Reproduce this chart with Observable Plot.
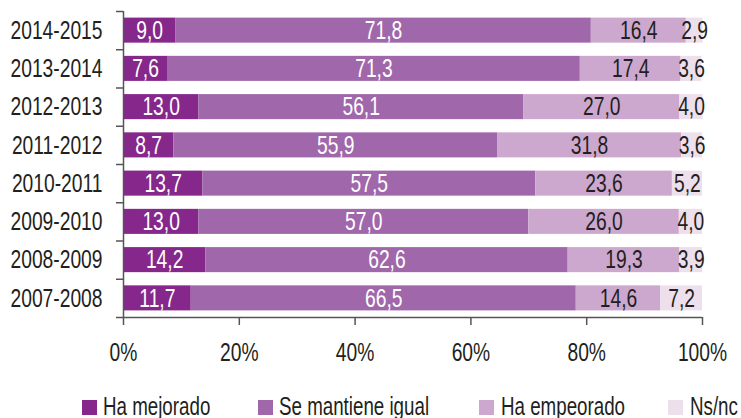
<!DOCTYPE html>
<html>
<head>
<meta charset="utf-8">
<script src="https://cdn.jsdelivr.net/npm/d3@7"></script>
<script src="https://cdn.jsdelivr.net/npm/@observablehq/plot@0.6"></script>
<style>
  html, body { margin: 0; padding: 0; background: #fff; }
  #wrap { position: relative; width: 741px; height: 418px; overflow: hidden; }
  .f { font-family: 'Liberation Sans', Arial, sans-serif; }
  #legend { position: absolute; top: 0; left: 0; width: 741px; height: 418px; font-size: 25.5px; line-height: 25.5px; color: #231f20; pointer-events: none; }
  #legend .sw { position: absolute; width: 15px; height: 15px; top: 399.5px; }
  #legend .lab { position: absolute; top: 394px; white-space: nowrap; transform: scaleX(0.735); transform-origin: 0 0; }
</style>
</head>
<body>
<div id="wrap" class="f">
  <div id="chart"></div>
  <div id="legend" class="f"></div>
</div>
<script>
const categories = ["2014-2015","2013-2014","2012-2013","2011-2012","2010-2011","2009-2010","2008-2009","2007-2008"];
const series = ["Ha mejorado","Se mantiene igual","Ha empeorado","Ns/nc"];
const haMejorado  = [9.0, 7.6, 13.0, 8.7, 13.7, 13.0, 14.2, 11.7];
const seMantiene  = [71.8, 71.3, 56.1, 55.9, 57.5, 57.0, 62.6, 66.5];
const haEmpeorado = [16.4, 17.4, 27.0, 31.8, 23.6, 26.0, 19.3, 14.6];
const nsNc        = [2.9, 3.6, 4.0, 3.6, 5.2, 4.0, 3.9, 7.2];
const xTicks = [0, 20, 40, 60, 80, 100];
const colors = ["#85278b", "#a068ab", "#cca8cf", "#eedfec"];

const valuesBySeries = [haMejorado, seMantiene, haEmpeorado, nsNc];
const rows = [];
categories.forEach((cat, i) => {
  series.forEach((s, k) => {
    rows.push({cat, i0: i, i1: i + 1, ic: i + 0.5, series: s, k, value: valuesBySeries[k][i]});
  });
});
const fmt = v => v.toFixed(1).replace(".", ",");
const fontFamily = "'Liberation Sans', Arial, sans-serif";
const FS = 25.5;
const SX = 0.755;

const chart = Plot.plot({
  width: 741,
  height: 375,
  marginLeft: 123,
  marginRight: 39,
  marginTop: 11,
  marginBottom: 58,
  style: {fontFamily, fontSize: FS + "px", color: "#231f20", background: "white"},
  x: {domain: [0, 100], label: null},
  y: {domain: [categories.length, 0], label: null},
  color: {domain: series, range: colors},
  marks: [
    Plot.rect(rows, Plot.stackX({x: "value", y1: "i0", y2: "i1", fill: "series", insetTop: 6.6, insetBottom: 6.6})),
    Plot.text(rows, Plot.stackX({x: "value", y: "ic", text: d => d.k < 2 ? fmt(d.value) : "", fill: "white", fontSize: FS})),
    Plot.text(rows, Plot.stackX({x: "value", y: "ic", text: d => d.k >= 2 ? fmt(d.value) : "", fill: "#231f20", fontSize: FS})),
    Plot.ruleX([0], {stroke: "#555", strokeWidth: 1.5}),
    Plot.ruleY([categories.length], {stroke: "#555", strokeWidth: 1.5}),
    Plot.axisY({ticks: d3.range(0, categories.length + 1), tickSize: 7, tickFormat: () => "", stroke: "#555", strokeWidth: 1.5}),
    Plot.axisY({ticks: d3.range(0.5, categories.length, 1), tickSize: 0, tickPadding: 21, tickFormat: t => categories[Math.floor(t)], fontSize: FS, fill: "#231f20"}),
    Plot.axisX({ticks: xTicks, tickSize: 8, tickPadding: 17, tickFormat: d => d + "%", fontSize: FS, fill: "#231f20", stroke: "#555", strokeWidth: 1.5})
  ]
});
// condense the glyphs horizontally (narrow typeface look), keeping anchors in place
chart.querySelectorAll("text").forEach(t => {
  const tr = t.getAttribute("transform");
  const x = t.getAttribute("x"), y = t.getAttribute("y");
  let base = tr || "";
  if (!tr && (x != null || y != null)) {
    base = `translate(${x || 0},${y || 0})`;
    t.removeAttribute("x"); t.removeAttribute("y");
  }
  t.setAttribute("transform", `${base} scale(${SX},1)`);
});
document.getElementById("chart").appendChild(chart);

const legend = document.getElementById("legend");
const swX = [82, 258, 479, 668];
const labX = [103, 279, 501, 690];
series.forEach((s, k) => {
  const sw = document.createElement("span");
  sw.className = "sw";
  sw.style.background = colors[k];
  sw.style.left = swX[k] + "px";
  const lab = document.createElement("span");
  lab.className = "lab";
  lab.style.left = labX[k] + "px";
  lab.textContent = s;
  legend.appendChild(sw);
  legend.appendChild(lab);
});
</script>
</body>
</html>
